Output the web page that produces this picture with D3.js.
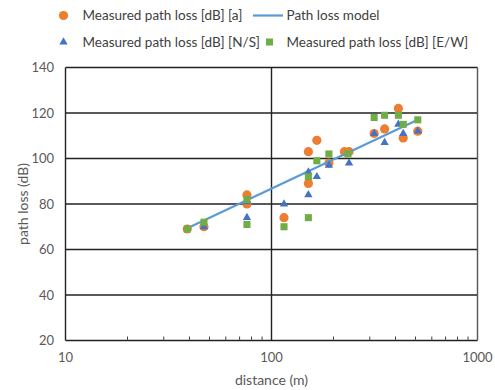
<!DOCTYPE html>
<html><head><meta charset="utf-8">
<script src="https://cdn.jsdelivr.net/npm/d3@7/dist/d3.min.js"></script>
<style>body{margin:0;background:#fff}svg{display:block}text{font-family:Lato,"Open Sans",sans-serif}</style>
</head><body><svg id="c" width="495" height="390"></svg>
<script>
const seriesA = [[39,69],[47,70],[76,84],[76,80],[115,74],[151,103],[151,89],[166,108],[190,98],[226,103],[238,103],[315,111],[354,113],[413,122],[436,109],[513,112]];
const seriesNS = [[47,70],[76,74],[76,81],[115,80],[151,94],[151,84],[166,92],[190,97],[238,98],[315,111],[354,107],[413,115],[436,111],[513,112]];
const seriesEW = [[39,69],[47,72],[76,82],[76,71],[115,70],[151,92],[151,74],[166,99],[190,102],[235,102],[315,118],[354,119],[413,119],[436,115],[513,117]];
const modelLine = [[39,69.3],[513,117]];
const xTicks = [10,100,1000];
const yTicks = [20,40,60,80,100,120,140];
const legendLabels = ["Measured path loss [dB] [a]","Path loss model","Measured path loss [dB] [N/S]","Measured path loss [dB] [E/W]"];
const colors = {a:"#ED7D31", ns:"#4472C4", ew:"#70AD47", model:"#5B9BD5"};

const svg = d3.select("#c");
const L=65.5, R=477.5, T=67.5, B=340.5;
const x = d3.scaleLog().domain([10,1000]).range([L,R]);
const y = d3.scaleLinear().domain([20,140]).range([B,T]);

const g = svg.append("g");
yTicks.forEach(v=>{ g.append("line").attr("x1",L).attr("x2",R).attr("y1",y(v)).attr("y2",y(v)).attr("stroke","#222").attr("stroke-width",1.4); });
xTicks.forEach(v=>{ g.append("line").attr("x1",x(v)).attr("x2",x(v)).attr("y1",T).attr("y2",B).attr("stroke", v===1000?"#555":"#222").attr("stroke-width",1.4); });
const minor = [20,30,40,50,60,70,80,90,200,300,400,500,600,700,800,900];
minor.forEach(v=>{ g.append("line").attr("x1",x(v)).attr("x2",x(v)).attr("y1",B).attr("y2",B-4).attr("stroke","#444").attr("stroke-width",1); });

svg.append("g").selectAll("text").data(yTicks).join("text")
  .attr("x",54).attr("y",d=>y(d)+4.5).attr("text-anchor","end").attr("font-size",13).attr("fill","#595959").text(d=>d);
svg.append("g").selectAll("text").data(xTicks).join("text")
  .attr("x",d=>x(d)).attr("y",362).attr("text-anchor","middle").attr("font-size",13).attr("fill","#595959").text(d=>d);
svg.append("text").attr("x",(L+R)/2).attr("y",385).attr("text-anchor","middle").attr("font-size",14).attr("fill","#595959").text("distance (m)");
svg.append("text").attr("transform","translate(28,"+((T+B)/2)+") rotate(-90)").attr("text-anchor","middle").attr("font-size",14).attr("fill","#595959").text("path loss (dB)");

const tri = d3.symbol().type(d3.symbolTriangle).size(30);
const sq = d3.symbol().type(d3.symbolSquare).size(50);

svg.append("g").selectAll("circle").data(seriesA).join("circle").attr("cx",d=>x(d[0])).attr("cy",d=>y(d[1])).attr("r",4.6).attr("fill",colors.a);
svg.append("path").datum(modelLine).attr("d",d3.line().x(d=>x(d[0])).y(d=>y(d[1]))).attr("fill","none").attr("stroke",colors.model).attr("stroke-width",2.2);
svg.append("g").selectAll("path").data(seriesNS).join("path").attr("d",tri).attr("transform",d=>`translate(${x(d[0])},${y(d[1])})`).attr("fill",colors.ns);
svg.append("g").selectAll("path").data(seriesEW).join("path").attr("d",sq).attr("transform",d=>`translate(${x(d[0])},${y(d[1])})`).attr("fill",colors.ew);

const lg = svg.append("g").attr("font-size",13.5);
lg.append("circle").attr("cx",63.5).attr("cy",15.5).attr("r",4.6).attr("fill",colors.a);
lg.append("text").attr("x",82.5).attr("y",20).attr("fill","#404040").text(legendLabels[0]);
lg.append("line").attr("x1",253).attr("x2",283).attr("y1",15.5).attr("y2",15.5).attr("stroke",colors.model).attr("stroke-width",2.2);
lg.append("text").attr("x",286.5).attr("y",20).attr("fill","#404040").text(legendLabels[1]);
lg.append("path").attr("d",tri).attr("transform","translate(63.5,42)").attr("fill",colors.ns);
lg.append("text").attr("x",82.5).attr("y",46.5).attr("fill","#404040").text(legendLabels[2]);
lg.append("path").attr("d",sq).attr("transform","translate(269.5,42)").attr("fill",colors.ew);
lg.append("text").attr("x",286.5).attr("y",46.5).attr("fill","#404040").text(legendLabels[3]);
</script></body></html>
